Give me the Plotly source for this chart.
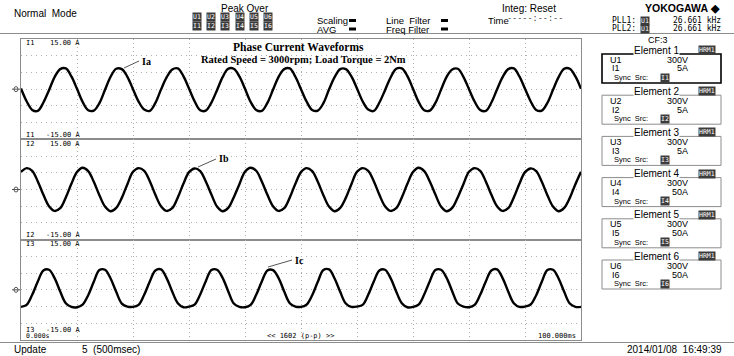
import plotly.graph_objects as go

# ---------------- data ----------------
time_ms = list(range(0, 101))  # 0 .. 100 ms, 1 ms sampling

ia = [
    0.2, -3.6, -6.2, -6.5, -4.0, -0.3, 3.6, 6.0, 6.2, 3.8,
    0.1, -3.8, -6.3, -6.4, -4.2, -0.2, 3.7, 6.1, 6.0, 3.7,
    0.0, -3.7, -6.1, -6.5, -4.1, -0.1, 3.5, 5.9, 6.2, 3.9,
    0.2, -3.6, -6.3, -6.4, -4.0, -0.3, 3.6, 6.1, 6.1, 3.8,
    0.1, -3.8, -6.2, -6.5, -4.1, -0.2, 3.7, 6.0, 6.2, 3.7,
    0.0, -3.7, -6.2, -6.4, -4.2, -0.1, 3.6, 6.0, 6.0, 3.8,
    0.2, -3.6, -6.1, -6.5, -4.0, -0.3, 3.5, 6.1, 6.2, 3.9,
    0.1, -3.8, -6.3, -6.4, -4.1, -0.2, 3.7, 5.9, 6.1, 3.7,
    0.0, -3.7, -6.2, -6.5, -4.0, -0.1, 3.6, 6.0, 6.2, 3.8,
    0.1, -3.6, -6.2, -6.4, -4.1, -0.2, 3.6, 6.1, 6.1, 3.8,
    0.1,
]

ib = [
    5.3, 6.4, 5.6, 2.4, -1.6, -5.0, -6.4, -5.6, -2.4, 1.7,
    5.2, 6.5, 5.5, 2.3, -1.7, -5.1, -6.5, -5.5, -2.5, 1.6,
    5.3, 6.4, 5.6, 2.5, -1.6, -5.0, -6.4, -5.6, -2.4, 1.7,
    5.2, 6.3, 5.5, 2.4, -1.5, -5.1, -6.5, -5.5, -2.3, 1.6,
    5.3, 6.5, 5.6, 2.4, -1.6, -5.0, -6.4, -5.6, -2.4, 1.7,
    5.2, 6.4, 5.5, 2.3, -1.7, -5.1, -6.5, -5.5, -2.5, 1.6,
    5.3, 6.4, 5.6, 2.5, -1.6, -5.0, -6.4, -5.6, -2.4, 1.7,
    5.2, 6.5, 5.5, 2.4, -1.5, -5.1, -6.5, -5.5, -2.3, 1.6,
    5.3, 6.4, 5.6, 2.4, -1.6, -5.0, -6.4, -5.6, -2.4, 1.7,
    5.2, 6.3, 5.5, 2.3, -1.7, -5.1, -6.5, -5.5, -2.5, 1.6,
    5.3,
]

ic = [
    -5.1, -4.5, -1.5, 2.5, 5.8, 6.0, 3.5, -0.5, -4.0, -5.1,
    -5.2, -4.4, -1.6, 2.4, 5.9, 6.0, 3.4, -0.6, -4.1, -5.0,
    -5.1, -4.5, -1.5, 2.5, 5.8, 6.1, 3.5, -0.5, -4.0, -5.2,
    -5.0, -4.4, -1.4, 2.6, 5.9, 6.0, 3.6, -0.4, -4.1, -5.1,
    -5.2, -4.5, -1.5, 2.5, 5.8, 5.9, 3.5, -0.5, -4.0, -5.0,
    -5.1, -4.4, -1.6, 2.4, 5.9, 6.1, 3.4, -0.6, -4.1, -5.1,
    -5.0, -4.5, -1.5, 2.5, 5.8, 6.0, 3.5, -0.5, -4.0, -5.2,
    -5.1, -4.4, -1.4, 2.6, 5.9, 6.0, 3.6, -0.4, -4.1, -5.0,
    -5.2, -4.5, -1.5, 2.5, 5.8, 6.1, 3.5, -0.5, -4.0, -5.1,
    -5.0, -4.4, -1.6, 2.4, 5.9, 6.0, 3.4, -0.6, -4.1, -5.1,
    -5.1,
]

series_names = ["Ia", "Ib", "Ic"]
channel_labels = ["I1", "I2", "I3"]
range_top_labels = ["15.00 A", "15.00 A", "15.00 A"]
range_bottom_labels = ["-15.00 A", "-15.00 A", "-15.00 A"]
y_range = [-15, 15]
x_range = [0, 100]

title_text = "Phase Current Waveforms"
subtitle_text = "Rated Speed = 3000rpm; Load Torque = 2Nm"

element_names = ["Element 1", "Element 2", "Element 3", "Element 4", "Element 5", "Element 6"]
element_u = ["U1", "U2", "U3", "U4", "U5", "U6"]
element_i = ["I1", "I2", "I3", "I4", "I5", "I6"]
element_u_range = ["300V"] * 6
element_i_range = ["5A", "5A", "5A", "50A", "50A", "50A"]

peak_u_labels = ["U1", "U2", "U3", "U4", "U5", "U6"]
peak_i_labels = ["I1", "I2", "I3", "I4", "I5", "I6"]

# ---------------- geometry helpers (pixels -> paper) ----------------
W, H = 734, 356
def px(x):
    return x / W
def py(y):
    return 1 - y / H

PL, PR, PT, PB = 21, 581, 39, 340
panel_h = (PB - PT) / 3
panel_px = [(PT + i * panel_h, PT + (i + 1) * panel_h) for i in range(3)]

SANS = "Liberation Sans"
SERIF = "Liberation Serif"
MONO = "DejaVu Sans Mono"

fig = go.Figure()
for k, vals in enumerate([ia, ib, ic]):
    sfx = "" if k == 0 else str(k + 1)
    fig.add_trace(go.Scatter(
        x=time_ms, y=vals, mode="lines", name=series_names[k],
        line=dict(color="black", width=2.4, shape="spline", smoothing=1.0),
        xaxis="x" + sfx, yaxis="y" + sfx, hoverinfo="skip", showlegend=False,
    ))

layout = dict(
    width=W, height=H, margin=dict(l=0, r=0, t=0, b=0),
    paper_bgcolor="white", plot_bgcolor="white", showlegend=False,
    font=dict(family=SANS, color="black"),
)
grid_col = "#b0b0b0"
for k in range(3):
    sfx = "" if k == 0 else str(k + 1)
    top, bot = panel_px[k]
    layout["xaxis" + sfx] = dict(
        domain=[px(PL), px(PR)], range=x_range, anchor="y" + sfx,
        showgrid=True, dtick=10, tick0=0, gridcolor=grid_col, griddash="1px,3px", gridwidth=1,
        showticklabels=False, ticks="", zeroline=False,
        showline=True, mirror=True, linecolor="#8c8c8c", linewidth=1, fixedrange=True,
    )
    layout["yaxis" + sfx] = dict(
        domain=[py(bot), py(top)], range=y_range, anchor="x" + sfx,
        showgrid=True, dtick=5, tick0=0, gridcolor=grid_col, griddash="1px,4px", gridwidth=1,
        showticklabels=False, ticks="", zeroline=False,
        showline=True, mirror=True, linecolor="#8c8c8c", linewidth=1, fixedrange=True,
    )

ann = []
shapes = []

def txt(s, x, y, size=10, family=SANS, xanchor="left", bold=False, color="black", bg=None, yanchor="middle"):
    d = dict(text=("<b>%s</b>" % s) if bold else s, x=px(x), y=py(y), xref="paper", yref="paper",
             xanchor=xanchor, yanchor=yanchor, showarrow=False,
             font=dict(size=size, family=family, color=color))
    if bg:
        d["bgcolor"] = bg
        d["borderpad"] = 0
    ann.append(d)

def tag(s, x, y, size=6.5):
    ann.append(dict(text=s, x=px(x), y=py(y), xref="paper", yref="paper", xanchor="center",
                    yanchor="middle", showarrow=False, bgcolor="#3c3c3c", borderpad=0,
                    font=dict(size=size, family=MONO, color="white")))

def bar(x, y):
    shapes.append(dict(type="rect", xref="paper", yref="paper", x0=px(x), x1=px(x + 7),
                       y0=py(y + 1.5), y1=py(y - 1.5), fillcolor="black", line=dict(width=0)))

# ---------- header ----------
txt("Normal  Mode", 12, 13, 10)
txt("Peak Over", 245, 8, 10, xanchor="center")
for j in range(6):
    tag(peak_u_labels[j], 197 + j * 14.2, 17.5)
    tag(peak_i_labels[j], 197 + j * 14.2, 26)
txt("Scaling", 315, 20.5, 9.5)
txt("AVG", 315, 29, 9.5)
bar(349, 20.5)
bar(349, 29)
txt("Line  Filter", 384, 20.5, 9.5)
txt("Freq Filter", 384, 29, 9.5)
bar(441, 20.5)
bar(441, 29)
txt("Time", 486, 20.5, 9.5)
txt("Integ: Reset", 500, 8, 10)
txt("-----:--:--", 505, 18, 8.5, family=MONO, color="#444")
txt("YOKOGAWA ◆", 722, 8, 10.5, xanchor="right", bold=True)
txt("PLL1:", 610, 20.5, 8, family=MONO)
tag("U1", 645, 20.5)
txt("26.661 kHz", 723, 20.5, 8, family=MONO, xanchor="right")
txt("PLL2:", 610, 28.5, 8, family=MONO)
tag("U1", 645, 28.5)
txt("26.661 kHz", 723, 28.5, 8, family=MONO, xanchor="right")
shapes.append(dict(type="line", xref="paper", yref="paper", x0=0, x1=1, y0=py(33.5), y1=py(33.5), line=dict(color="#8c8c8c", width=1)))
txt("CF:3", 658, 40, 9, xanchor="center")

# ---------- plot labels ----------
for k in range(3):
    top, bot = panel_px[k]
    txt(channel_labels[k], 24, top + 4.5, 7, family=MONO)
    txt(range_top_labels[k], 48, top + 4.5, 7, family=MONO)
    yb = bot - 4.5 if k < 2 else bot - 10.5
    txt(channel_labels[k], 24, yb, 7, family=MONO)
    txt(range_bottom_labels[k], 44, yb, 7, family=MONO)
    cy = (top + bot) / 2
    shapes.append(dict(type="line", xref="paper", yref="paper", x0=px(12), x1=px(20), y0=py(cy), y1=py(cy), line=dict(color="#555", width=1)))
    shapes.append(dict(type="circle", xref="paper", yref="paper", x0=px(14), x1=px(18), y0=py(cy + 2.5), y1=py(cy - 2.5), line=dict(color="#555", width=1)))
txt("0.000s", 24, 336, 6.5, family=MONO)
txt("<< 1602 (p-p) >>", 300, 336, 7, family=MONO, xanchor="center")
txt("100.000ms", 578, 336, 7, family=MONO, xanchor="right")

txt(title_text, 298, 47, 11.5, family=SERIF, xanchor="center", bold=True)
txt(subtitle_text, 303, 60, 10.5, family=SERIF, xanchor="center", bold=True)

# series callouts
callouts = [((124, 68), (139, 61), (140, 61)), ((198, 167), (216, 159), (217, 158)), ((268, 267), (292, 260), (293, 260))]
for k, (p0, p1, pt) in enumerate(callouts):
    shapes.append(dict(type="line", xref="paper", yref="paper", x0=px(p0[0]), y0=py(p0[1]), x1=px(p1[0]), y1=py(p1[1]), line=dict(color="#555", width=1)))
    txt(series_names[k], pt[0], pt[1], 10, family=SERIF, bold=True)

# ---------- element boxes ----------
for e in range(6):
    ty = 50 + e * 41.2
    top = ty + 4
    bot = top + 29
    shapes.append(dict(type="rect", xref="paper", yref="paper", x0=px(602), x1=px(721), y0=py(bot), y1=py(top),
                       line=dict(color="black" if e == 0 else "#8c8c8c", width=1.6 if e == 0 else 1)))
    ann.append(dict(text=element_names[e], x=px(656), y=py(ty), xref="paper", yref="paper", xanchor="center",
                    yanchor="middle", showarrow=False, bgcolor="white", borderpad=0,
                    font=dict(size=10, family=SANS, color="black")))
    tag("HRM1", 707, ty)
    txt(element_u[e], 608, top + 5.5, 9)
    txt(element_u_range[e], 690, top + 5.5, 9, xanchor="right")
    txt(element_i[e], 610, top + 14.5, 9)
    txt(element_i_range[e], 690, top + 14.5, 9, xanchor="right")
    txt("Sync  Src:", 612, top + 23.5, 7.5)
    tag(element_i[e], 665, top + 23.5)

# ---------- footer ----------
shapes.append(dict(type="line", xref="paper", yref="paper", x0=0, x1=1, y0=py(342.5), y1=py(342.5), line=dict(color="#8c8c8c", width=1)))
txt("Update", 12, 349.5, 10)
txt("5  (500msec)", 80, 349.5, 10)
txt("2014/01/08  16:49:39", 724, 349.5, 10, xanchor="right")

layout["annotations"] = ann
layout["shapes"] = shapes
fig.update_layout(**layout)
fig.write_html("out.html")
